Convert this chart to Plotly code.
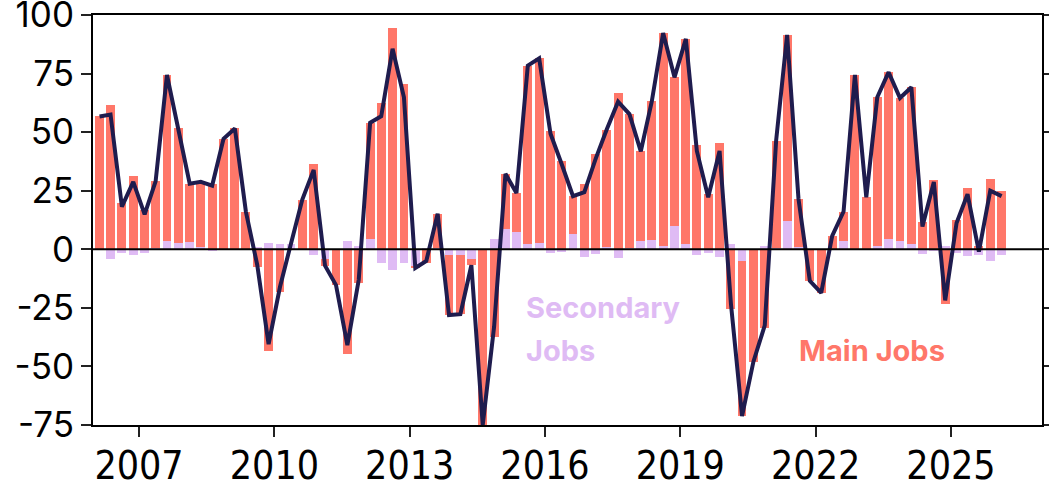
import plotly.graph_objects as go

# Quarterly change in employment (thousands), split by job type
quarters = [f"{2006 + (i // 4)}-{[2, 5, 8, 11][i % 4]:02d}-15" for i in range(81)]

main_jobs = [
    56.7, 61.5, 19.9, 31.4, 16.6, 28.3, 70.8, 49.0, 24.9, 28.0,
    28.0, 47.2, 51.6, 16.1, -7.5, -43.3, -18.2, 0.0, 21.2, 36.2,
    -3.0, -15.3, -44.5, -14.3, 49.7, 62.5, 94.5, 70.6, -0.5, -5.7,
    14.5, -25.8, -25.4, -2.8, -75.0, -37.4, 23.4, 16.6, 76.3, 78.7,
    50.7, 37.5, 16.3, 27.7, 40.5, 50.1, 66.6, 57.2, 38.4, 59.0,
    90.7, 63.3, 87.4, 44.6, 23.6, 45.3, -25.7, -66.2, -48.0, -33.8,
    46.0, 79.6, 20.5, -13.1, -18.4, 5.7, 12.5, 74.1, 22.2, 63.5,
    71.3, 61.2, 67.1, 11.5, 29.4, -23.4, 12.6, 26.3, 1.6, 30.1,
    25.0,
]

secondary_jobs = [
    0.0, -4.0, -1.7, -2.6, -1.7, 0.7, 3.6, 2.6, 3.1, 0.8,
    -0.8, 0.0, 0.0, 0.0, 0.8, 2.8, 2.1, 2.4, 0.0, -2.3,
    -4.0, 0.0, 3.6, 1.3, 4.3, -5.7, -8.9, -5.7, -7.5, 0.7,
    0.7, -2.3, -2.3, -4.0, 0.0, 4.3, 8.8, 7.4, 2.1, 2.8,
    -1.4, -1.1, 6.4, -3.3, -1.8, 1.0, -3.6, 0.5, 3.4, 4.1,
    1.6, 10.1, 2.4, -2.6, -1.4, -3.3, 2.4, -5.0, 0.0, 1.3,
    0.4, 11.9, 1.1, -0.4, -0.2, 0.0, 3.6, 0.3, 0.0, 1.4,
    4.3, 3.4, 2.1, -1.8, -0.7, 1.6, -1.4, -2.8, -2.6, -5.1,
    -2.3,
]

total_jobs = [round(m + s, 1) for m, s in zip(main_jobs, secondary_jobs)]

x_tick_years = [2007, 2010, 2013, 2016, 2019, 2022, 2025]
y_tick_values = [-75, -50, -25, 0, 25, 50, 75, 100]

MAIN_COLOR = "#FF7769"
SECONDARY_COLOR = "#DFBBF4"
TOTAL_COLOR = "#1F1C4E"
BAR_WIDTH_MS = 72 * 24 * 3600 * 1000
LABEL_FONT = "Inter, Lato, sans-serif"

fig = go.Figure()
fig.add_trace(go.Bar(
    x=quarters, y=secondary_jobs, name="Secondary Jobs",
    marker=dict(color=SECONDARY_COLOR, line=dict(width=0)),
    width=BAR_WIDTH_MS,
))
fig.add_trace(go.Bar(
    x=quarters, y=main_jobs, name="Main Jobs",
    marker=dict(color=MAIN_COLOR, line=dict(width=0)),
    width=BAR_WIDTH_MS,
))
fig.add_trace(go.Scatter(
    x=quarters, y=total_jobs, mode="lines", name="Total",
    line=dict(color=TOTAL_COLOR, width=4),
))

# zero reference line drawn over the bars
fig.add_shape(type="line", xref="paper", x0=0, x1=1, yref="y", y0=0, y1=0,
              line=dict(color="black", width=2), layer="above")

# direct series labels
label_style = dict(xref="x", yref="y", xanchor="left", yanchor="middle", showarrow=False)
fig.add_annotation(text="Secondary", x="2015-07-14", y=-24.7, **label_style,
                   font=dict(family=LABEL_FONT, size=29, color=SECONDARY_COLOR, weight="bold"))
fig.add_annotation(text="Jobs", x="2015-07-14", y=-43.0, **label_style,
                   font=dict(family=LABEL_FONT, size=29, color=SECONDARY_COLOR, weight="bold"))
fig.add_annotation(text="Main Jobs", x="2021-08-03", y=-43.0, **label_style,
                   font=dict(family=LABEL_FONT, size=29, color=MAIN_COLOR, weight="bold"))

fig.update_layout(
    width=1049, height=486,
    margin=dict(l=93, r=7, t=15, b=61, autoexpand=False),
    paper_bgcolor="white", plot_bgcolor="white",
    barmode="relative", bargap=0,
    showlegend=False,
    hovermode=False,
)
fig.update_xaxes(
    type="date",
    range=["2005-12-24", "2027-01-08"],
    tickvals=[f"{y}-01-01" for y in x_tick_years],
    ticktext=[str(y) for y in x_tick_years],
    ticks="outside", ticklen=10, tickwidth=1.5, tickcolor="#222",
    showline=True, linecolor="black", linewidth=2, mirror=True,
    showgrid=False, zeroline=False, automargin=False,
    ticklabelstandoff=-5, ticklabeloverflow="allow",
    tickfont=dict(family="Liberation Sans Narrow, DejaVu Sans Condensed, Roboto, sans-serif", size=39, color="black"),
)
fig.update_yaxes(
    range=[-75.02, 100.02],
    tickvals=y_tick_values,
    ticktext=[str(v) if v >= 0 else "-" + str(-v) for v in y_tick_values],
    ticks="outside", ticklen=10, tickwidth=1.5, tickcolor="#222",
    showline=True, linecolor="black", linewidth=2, mirror="ticks",
    showgrid=False, zeroline=False, automargin=False,
    ticklabeloverflow="allow",
    tickfont=dict(family="Inter, Lato, sans-serif", size=35, color="black"),
)

fig.write_html("out.html")
